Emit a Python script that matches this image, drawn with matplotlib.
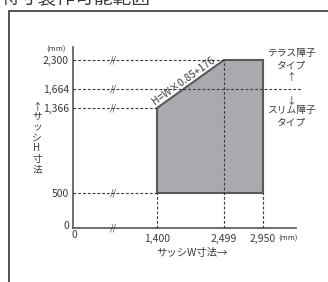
import numpy as np
import matplotlib
matplotlib.use("Agg")
import matplotlib.pyplot as plt
from matplotlib.patches import Polygon, Rectangle

plt.rcParams['font.family'] = ['Noto Sans CJK JP', 'DejaVu Sans']

# data (mm)
w_ticks = [1400, 2499, 2950]
h_ticks = [500, 1366, 1664, 2300]
w_labels = ["1,400", "2,499", "2,950"]
h_labels = ["500", "1,366", "1,664", "2,300"]
slope = 0.85
intercept = 176
title = "特寸製作可能範囲"

# schematic broken-axis scales: value -> pixel offset
x_bp = [0, 1400, 2499, 2950, 3500]
x_px = [0, 84, 151, 190, 223]
y_bp = [0, 500, 1366, 1664, 2300, 2500]
y_px = [0, 35, 120, 139, 168, 181]


def piecewise(v, xp, fp):
    # linear interp with linear extrapolation at both ends
    v = np.asarray(v, dtype=float)
    out = np.interp(v, xp, fp)
    lo = v < xp[0]
    hi = v > xp[-1]
    out = np.where(lo, fp[0] + (v - xp[0]) * (fp[1] - fp[0]) / (xp[1] - xp[0]), out)
    out = np.where(hi, fp[-1] + (v - xp[-1]) * (fp[-1] - fp[-2]) / (xp[-1] - xp[-2]), out)
    return out


xf = lambda v: piecewise(v, x_bp, x_px)
xi = lambda v: piecewise(v, x_px, x_bp)
yf = lambda v: piecewise(v, y_bp, y_px)
yi = lambda v: piecewise(v, y_px, y_bp)

dark = "#3a3a3a"
axc = "#555555"

fig = plt.figure(figsize=(3.28, 2.82), dpi=100)
fig.patch.set_facecolor("white")
fig.patches.append(Rectangle((9 / 328, -0.1), 1.2, (282 - 11) / 282 + 0.1,
                             transform=fig.transFigure, fill=False,
                             ec="#444444", lw=1.3))
fig.text(0.0, 1 - 9 / 282, title, fontsize=13.5, color=dark, va="bottom", ha="left")

ax = fig.add_axes([73 / 328, 54 / 282, 223 / 328, 181 / 282])
ax.set_xscale("function", functions=(xf, xi))
ax.set_yscale("function", functions=(yf, yi))
ax.set_xlim(0, 3500)
ax.set_ylim(0, 2500)
ax.patch.set_alpha(0)
for s in ["top", "right"]:
    ax.spines[s].set_visible(False)
for s in ["left", "bottom"]:
    ax.spines[s].set_color(axc)
    ax.spines[s].set_linewidth(1.2)

w_min, w_mid, w_max = w_ticks
h_min, h_mid, h_div, h_max = h_ticks

# range polygon
verts = [(w_min, h_min), (w_min, w_min * slope + intercept),
         (w_mid, w_mid * slope + intercept), (w_max, h_max), (w_max, h_min)]
ax.add_patch(Polygon(verts, closed=True, fc="#a9aaad", ec="#5a5a5a", lw=1.5, zorder=2))

dash = dict(color=dark, lw=0.8, linestyle=(0, (2.5, 1.8)), zorder=3, clip_on=False)
ax.plot([0, w_mid], [h_max, h_max], **dash)
ax.plot([0, 3580], [h_div, h_div], **dash)
ax.plot([0, w_min], [h_mid, h_mid], **dash)
ax.plot([0, w_min], [h_min, h_min], **dash)
ax.plot([w_min, w_min], [0, h_min], **dash)
ax.plot([w_mid, w_mid], [0, h_max], **dash)
ax.plot([w_max, w_max], [0, h_min], **dash)

# break marks
for h in [0] + h_ticks:
    ax.text(670, h, "//", fontsize=6.5, color=dark, ha="center", va="center",
            style="italic", zorder=4)

ax.set_xticks(w_ticks)
ax.set_xticklabels(w_labels)
ax.set_yticks(h_ticks)
ax.set_yticklabels(h_labels)
ax.tick_params(length=0, labelsize=7.5, colors=dark)
ax.tick_params(axis="y", pad=3)
ax.tick_params(axis="x", pad=4)

fs = 7.5
ax.text(-70, 30, "0", fontsize=fs, color=dark, ha="right", va="center")
ax.text(20, -100, "0", fontsize=fs, color=dark, ha="center", va="center")
ax.text(3200, -150, "(mm)", fontsize=5.5, color=dark, ha="left", va="center")
ax.text(-117, 2454, "(mm)", fontsize=5.5, color=dark, ha="right", va="center")

ax.text(1974, -357, "サッシW寸法→", fontsize=fs, color=dark, ha="center",
        va="center", clip_on=False)
fig.text(37 / 328, 1 - 138 / 282, "\n".join("↑サッシH寸法"), fontsize=7,
         color=dark, ha="center", va="center", linespacing=1.05)

# right side labels
rx = 3417
ax.text(rx, 2314, "テラス障子\nタイプ", fontsize=7, color=dark, ha="center",
        va="center", linespacing=1.3)
ax.text(rx, 1927, "↑", fontsize=7, color=dark, ha="center", va="center")
ax.text(rx, 1491, "↓", fontsize=7, color=dark, ha="center", va="center")
ax.text(rx, 1279, "スリム障子\nタイプ", fontsize=7, color=dark, ha="center",
        va="center", linespacing=1.3)

# formula label along the diagonal (placed in display space)
p0 = ax.transData.transform((w_min, w_min * slope + intercept))
p1 = ax.transData.transform((w_mid, w_mid * slope + intercept))
ang = np.degrees(np.arctan2(p1[1] - p0[1], p1[0] - p0[0]))
pc = p0 + 0.45 * (p1 - p0)
nrm = np.radians(ang + 90)
off = 2.4
ax.annotate("H=W×0.85+176", pc, xycoords="figure pixels",
            xytext=(off * np.cos(nrm), off * np.sin(nrm)),
            textcoords="offset points", fontsize=7.3, color=dark, rotation=ang,
            rotation_mode="anchor", ha="center", va="baseline")

fig.savefig("out.png", dpi=100)
